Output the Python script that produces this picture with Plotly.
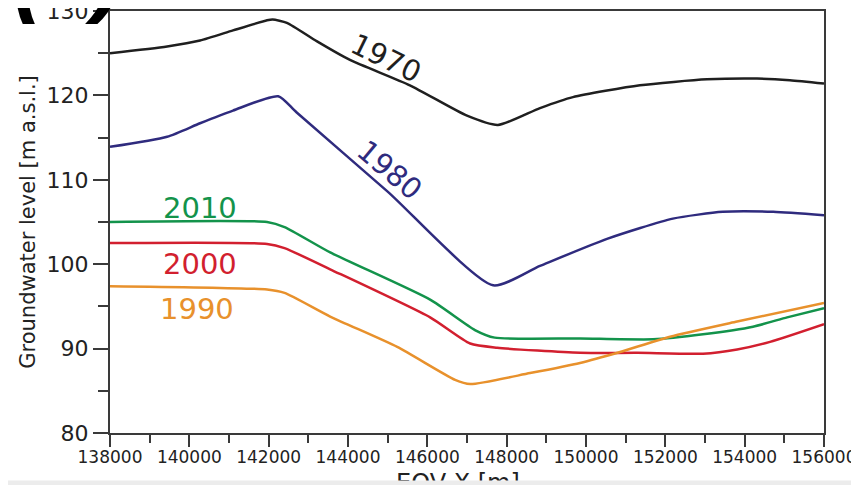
import plotly.graph_objects as go

# ---- data ----
x_1970 = [138000, 139440, 140270, 141100, 141960, 142100, 142460, 143220, 144050, 145560, 147000, 147780, 148840, 149670, 151360, 153050, 154310, 155140, 156000]
y_1970 = [125.0, 125.8, 126.5, 127.7, 128.9, 129.0, 128.6, 126.4, 124.2, 121.2, 117.6, 116.5, 118.5, 119.8, 121.2, 121.9, 122.0, 121.8, 121.4]

x_1980 = [138000, 139440, 140270, 141100, 142240, 142700, 145000, 147660, 148840, 150530, 152190, 153450, 154720, 156000]
y_1980 = [113.9, 115.1, 116.7, 118.2, 119.9, 118.0, 108.6, 97.5, 99.8, 103.0, 105.4, 106.2, 106.2, 105.8]

x_2010 = [138000, 141960, 142400, 143550, 146070, 147200, 147700, 149850, 151690, 152950, 154210, 155070, 156000]
y_2010 = [105.0, 105.0, 104.4, 101.4, 95.8, 92.2, 91.3, 91.2, 91.1, 91.7, 92.6, 93.7, 94.8]

x_2000 = [138000, 141960, 142400, 143550, 146070, 147080, 147760, 149850, 151290, 152950, 153810, 154640, 156000]
y_2000 = [102.5, 102.4, 101.9, 99.4, 93.7, 90.6, 90.1, 89.5, 89.5, 89.4, 89.9, 90.8, 92.9]

x_1990 = [138000, 141960, 142400, 143550, 145240, 146700, 147080, 148590, 149850, 150860, 152120, 153810, 156000]
y_1990 = [97.4, 97.0, 96.6, 93.8, 90.2, 86.3, 85.8, 87.1, 88.3, 89.6, 91.4, 93.2, 95.4]

x_ticks = [138000, 140000, 142000, 144000, 146000, 148000, 150000, 152000, 154000, 156000]
y_ticks = [80, 90, 100, 110, 120, 130]

series = [
    ("1970", x_1970, y_1970, "#1f1f1f"),
    ("1980", x_1980, y_1980, "#2f2b7e"),
    ("2010", x_2010, y_2010, "#13934b"),
    ("2000", x_2000, y_2000, "#d21f2f"),
    ("1990", x_1990, y_1990, "#e8912c"),
]

fig = go.Figure()
for name, xs, ys, col in series:
    fig.add_trace(go.Scatter(x=xs, y=ys, mode="lines", name=name,
                             line=dict(color=col, width=2.5, shape="spline", smoothing=0.6),
                             showlegend=False))

FONT = "DejaVu Sans, Arial, sans-serif"

# curve labels
labels = [
    ("1970", 144950, 124.4, 26, "#1f1f1f"),
    ("1980", 145050, 111.2, 40, "#2f2b7e"),
    ("2010", 140270, 106.7, 0, "#13934b"),
    ("2000", 140270, 100.05, 0, "#d21f2f"),
    ("1990", 140200, 94.7, 0, "#e8912c"),
]
for t, lx, ly, ang, col in labels:
    fig.add_annotation(x=lx, y=ly, text=t, showarrow=False, textangle=ang,
                       font=dict(family=FONT, size=29, color=col),
                       xanchor="center", yanchor="middle")

# panel label, cropped at top-left
fig.add_annotation(xref="paper", yref="paper", x=-0.139, y=0.965, text="<b><i>(c)</i></b>",
                   showarrow=False, xanchor="left", yanchor="bottom",
                   font=dict(family="Liberation Sans, Arial", size=90, color="#000"))

# x-axis title (cut off at bottom in the reference)
fig.add_annotation(xref="paper", yref="paper", x=0.487, y=-0.08, text="EOV X [m]",
                   showarrow=False, xanchor="center", yanchor="top",
                   font=dict(family=FONT, size=24, color="#222"))

# light grey strip along the bottom edge, drawn over the title
fig.add_annotation(xref="paper", yref="paper", x=0.45, y=-0.1114, text=" ",
                   showarrow=False, xanchor="center", yanchor="top",
                   width=900, height=14, bgcolor="#ececec", borderpad=0,
                   font=dict(size=8))

fig.update_xaxes(range=[138000, 156000], tickvals=x_ticks, ticktext=[str(v) for v in x_ticks],
                 automargin=False, ticklabeloverflow="allow", ticklabelstandoff=-4,
                 showgrid=False, zeroline=False, showline=True, linecolor="#3a3a3a", linewidth=2,
                 mirror=True, ticks="outside", ticklen=12, tickwidth=1.5, tickcolor="#3a3a3a",
                 minor=dict(dtick=1000, ticks="outside", ticklen=8, tickwidth=1.5, tickcolor="#3a3a3a", showgrid=False),
                 tickfont=dict(family=FONT, size=17, color="#222"))
fig.update_yaxes(range=[80, 130], tickvals=y_ticks, automargin=False, ticklabeloverflow="allow",
                 showgrid=False, zeroline=False, showline=True, linecolor="#3a3a3a", linewidth=2,
                 mirror=True, ticks="outside", ticklen=15, tickwidth=1.5, tickcolor="#3a3a3a",
                 minor=dict(dtick=5, ticks="outside", ticklen=10, tickwidth=1.5, tickcolor="#3a3a3a", showgrid=False),
                 tickfont=dict(family=FONT, size=22, color="#222"),
                 title=dict(text="Groundwater level [m a.s.l.]", font=dict(family=FONT, size=21, color="#222"), standoff=5))

# page body adds an 8px offset, so the figure is sized to fill the remaining window
fig.update_layout(width=851, height=477, margin=dict(l=102, r=35, t=3, b=52),
                  paper_bgcolor="white", plot_bgcolor="white")

fig.write_html("out.html")
